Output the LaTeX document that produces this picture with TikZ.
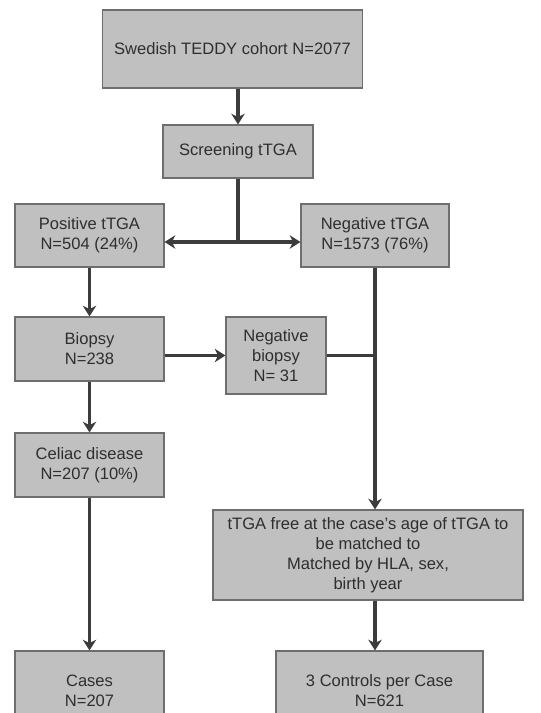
\documentclass[tikz,border=0pt]{standalone}
\usepackage{fontspec}
\setmainfont{Liberation Sans}
\usetikzlibrary{arrows.meta,positioning}
\definecolor{boxfill}{HTML}{C0C0C0}
\definecolor{boxline}{HTML}{6E6E6E}
\definecolor{arrowgray}{HTML}{3C3C3C}
\definecolor{textgray}{HTML}{2E2E2E}
\begin{document}
\begin{tikzpicture}[x=0.75pt,y=-0.75pt,every node/.style={font=\fontsize{12.4}{15}\selectfont,text=textgray,align=center,inner sep=0pt},stage/.style={draw=boxline,line width=0.8pt,fill=boxfill},flow/.style={-{Stealth[length=8pt,width=10pt,inset=2.5pt]},draw=arrowgray,line width=2.5pt},link/.style={draw=arrowgray,line width=2.5pt}]
\useasboundingbox (0,0) rectangle (541,713);
\node[stage,minimum width=195pt,minimum height=58.5pt] (cohort) at (232.5,49) {Swedish TEDDY cohort N=2077};
\node[stage,minimum width=112.5pt,minimum height=39.75pt] (screen) at (238,151.5) {Screening tTGA};
\node[stage,minimum width=111.75pt,minimum height=47.25pt] (pos) at (89.5,235.5) {Positive tTGA\\N=504 (24\%)};
\node[stage,minimum width=111pt,minimum height=47.25pt] (neg) at (375,235.5) {Negative tTGA\\N=1573 (76\%)};
\node[stage,minimum width=111.75pt,minimum height=48pt] (biopsy) at (89.5,349) {Biopsy\\N=238};
\node[stage,minimum width=75pt,minimum height=57.75pt] (negbiop) at (276,355.5) {Negative\\biopsy\\N= 31};
\node[stage,minimum width=111.75pt,minimum height=48pt] (celiac) at (89.5,465) {Celiac disease\\N=207 (10\%)};
\node[stage,minimum width=232.5pt,minimum height=67.5pt] (free) at (368,555) {tTGA free at the case's age of tTGA to\\be matched to\\Matched by HLA, sex,\\birth year};
\node[stage,minimum width=111.75pt,minimum height=60pt] (cases) at (89.5,691) {Cases\\N=207};
\node[stage,minimum width=155.25pt,minimum height=60pt] (controls) at (379.5,691) {3 Controls per Case\\N=621};
\coordinate (split) at (238,242);
\draw[flow] (screen.north |- cohort.south) -- (screen.north);
\draw[link] (screen.south) -- (split); \draw[flow] (split) -- (pos.east |- split); \draw[flow] (split) -- (neg.west |- split);
\draw[flow] (pos) -- (biopsy); \draw[flow] (biopsy) -- (celiac); \draw[flow] (celiac) -- (cases);
\draw[flow] (biopsy.east |- negbiop) -- (negbiop.west); \draw[link] (negbiop.east) -- (negbiop.east -| neg);
\draw[flow] (neg.south) -- (neg.south |- free.north);
\draw[flow] (free.south -| neg) -- (controls.north -| neg);
\end{tikzpicture}
\end{document}
